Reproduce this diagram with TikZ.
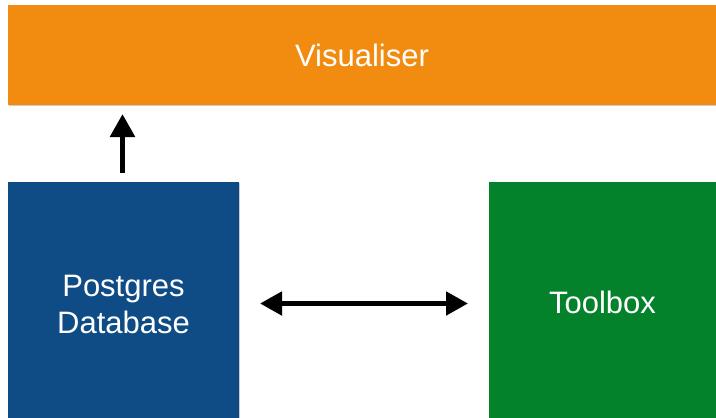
\documentclass[tikz,border=0pt]{standalone}
\usepackage{fontspec}
\setmainfont{Liberation Sans}
\usetikzlibrary{arrows.meta}
\definecolor{vorange}{HTML}{F28C10}
\definecolor{pblue}{HTML}{0F4C85}
\definecolor{tgreen}{HTML}{03822B}
\begin{document}
\begin{tikzpicture}[x=1pt,y=-1pt,
  box/.style={draw=none,inner sep=0pt,text=white,font=\fontsize{31}{37}\selectfont,align=center},
  arr/.style={line width=5.5pt,-{Triangle[width=24pt,length=23pt]}},
  darr/.style={line width=5pt,{Triangle[width=23pt,length=22pt]}-{Triangle[width=23pt,length=22pt]}}]
\useasboundingbox (0,0) rectangle (716,418);
\fill[gray!40] (9,6) rectangle (717,106);
\fill[gray!40] (9,183) rectangle (240,419);
\fill[gray!40] (490,183) rectangle (717,419);
\node[box,fill=vorange,minimum width=708pt,minimum height=100pt] (vis) at (362,55) {Visualiser};
\node[box,fill=pblue,minimum width=231pt,minimum height=244pt] (pg) at (123.5,304) {Postgres\\Database};
\node[box,fill=tgreen,minimum width=227pt,minimum height=240pt] (tb) at (602.5,302) {Toolbox};
\coordinate (upS) at (122.5,173);
\coordinate (upE) at (122.5,114);
\draw[arr] (upS) -- (upE);
\coordinate (dL) at (260,303.5);
\coordinate (dR) at (468,303.5);
\draw[darr] (dL) -- (dR);
\end{tikzpicture}
\end{document}
